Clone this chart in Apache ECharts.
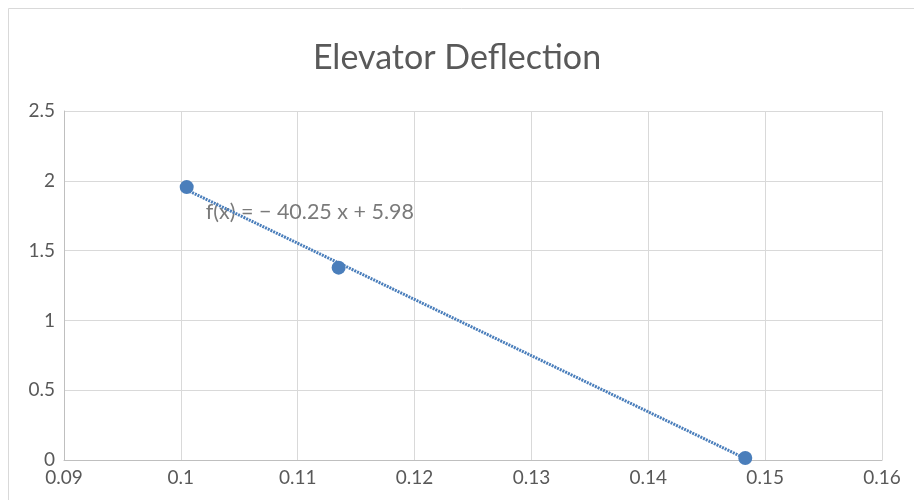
<!DOCTYPE html>
<html><head><meta charset="utf-8">
<script src="https://cdn.jsdelivr.net/npm/echarts@6/dist/echarts.min.js"></script>
<style>html,body{margin:0;padding:0;background:#fff}#c{width:914px;height:500px}</style>
</head><body><div id="c"></div>
<script>
var xValues = [0.1005, 0.1135, 0.1483];
var yValues = [1.955, 1.378, 0.014];
var trendSlope = -40.25;
var trendIntercept = 5.98;
var trendLabel = 'f(x) = \u2212 40.25 x + 5.98';
var xTicks = [0.09, 0.10, 0.11, 0.12, 0.13, 0.14, 0.15, 0.16];
var yTicks = [0, 0.5, 1, 1.5, 2, 2.5];

var pts = xValues.map(function(x, i){ return [x, yValues[i]]; });
var xmin = Math.min.apply(null, xValues), xmax = Math.max.apply(null, xValues);
var trend = [[xmin, trendSlope*xmin + trendIntercept], [xmax, trendSlope*xmax + trendIntercept]];
var FONT = 'Lato, "Open Sans", sans-serif';
var chart = echarts.init(document.getElementById('c'));
chart.setOption({
  animation: false,
  backgroundColor: '#fff',
  graphic: [{type:'rect', shape:{x:8.5,y:8.5,width:930,height:520}, style:{fill:'none',stroke:'#d9d9d9',lineWidth:1}, silent:true}],
  title: {text:'Elevator Deflection', left:'center', top:36, textStyle:{fontFamily:FONT, fontSize:34, fontWeight:'normal', color:'#595959'}},
  grid: {left:64, right:32, top:111, bottom:40, containLabel:false},
  xAxis: {type:'value', min:xTicks[0], max:xTicks[xTicks.length-1], interval:0.01,
    axisLine:{show:true, lineStyle:{color:'#bfbfbf', width:1}}, axisTick:{show:false},
    splitLine:{show:true, lineStyle:{color:'#d9d9d9', width:1}},
    axisLabel:{fontFamily:FONT, fontSize:19, color:'#595959', margin:8, formatter:function(v){return String(+v.toFixed(2));}}},
  yAxis: {type:'value', min:yTicks[0], max:yTicks[yTicks.length-1], interval:0.5,
    axisLine:{show:true, lineStyle:{color:'#bfbfbf', width:1}}, axisTick:{show:false},
    splitLine:{show:true, lineStyle:{color:'#d9d9d9', width:1}},
    axisLabel:{fontFamily:FONT, fontSize:19, color:'#595959', margin:9}},
  series: [
    {type:'scatter', data:[[xmin, trend[0][1]]], symbolSize:0, silent:true, z:1,
     label:{show:true, position:'right', formatter:trendLabel, offset:[14,22], fontFamily:FONT, fontSize:21.5, color:'#595959'}},
    {type:'line', data:trend, symbol:'none', lineStyle:{color:'#4a7ebb', width:3, type:[2,1]}, z:2},
    {type:'scatter', data:pts, symbol:'circle', symbolSize:14, itemStyle:{color:'#4a7ebb', opacity:1}, z:3}
  ]
});
</script></body></html>
